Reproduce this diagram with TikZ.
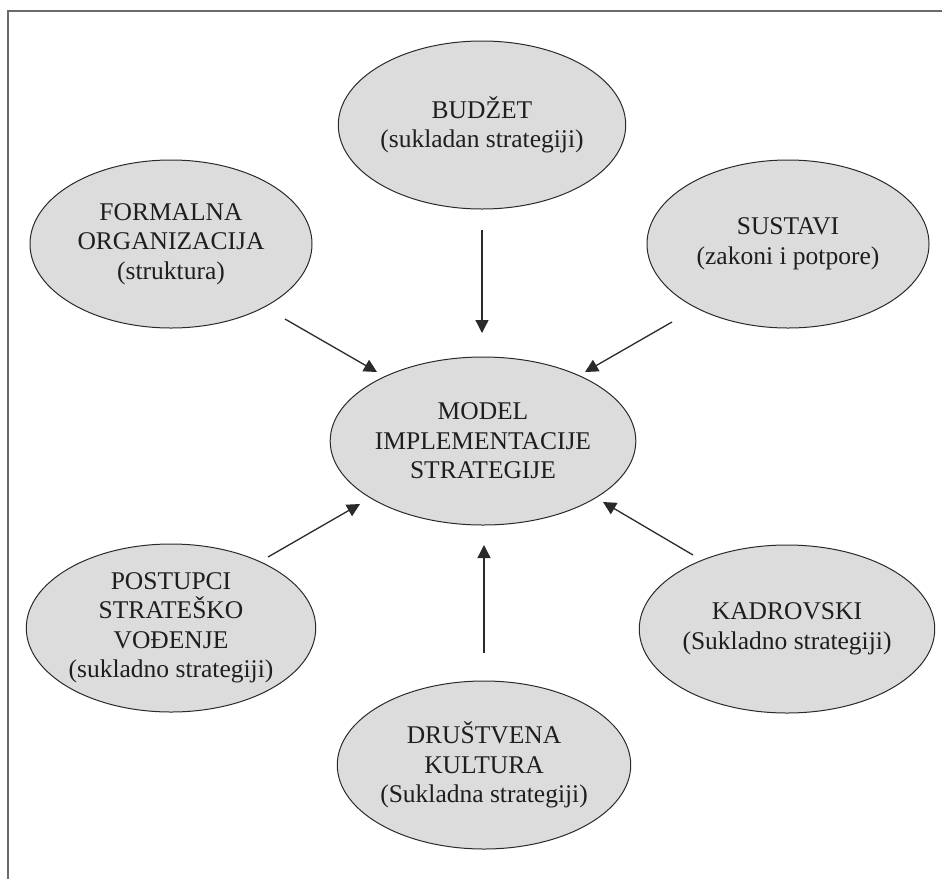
\documentclass[tikz,border=0pt]{standalone}
\usepackage{fontspec}
\setmainfont{Liberation Serif}
\usetikzlibrary{shapes.geometric,arrows.meta}
\definecolor{fillgray}{HTML}{DCDCDC}
\definecolor{edgecol}{HTML}{2A2A2A}
\definecolor{framecol}{HTML}{6A6A6A}
\definecolor{txtcol}{HTML}{1E1E1E}
\tikzset{
  blob/.style={ellipse, draw=edgecol, line width=1pt, fill=fillgray,
    minimum width=282pt, minimum height=168pt, inner sep=0pt,
    align=center, text=txtcol, font=\fontsize{25.5}{29.5}\selectfont},
  arr/.style={draw=edgecol, line width=1.3pt, -{Triangle[length=13pt,width=13pt]}},
  framestyle/.style={draw=framecol, line width=2pt}
}
\begin{document}
\begin{tikzpicture}[x=1pt,y=-1pt]
\useasboundingbox (0,0) rectangle (942,879);
\draw[framestyle] (8,879) -- (8,11) -- (942,11);

\node[blob] (bud) at (482,125) {BUDŽET\\(sukladan strategiji)};
\node[blob] (for) at (171,244) {FORMALNA\\ORGANIZACIJA\\(struktura)};
\node[blob] (sus) at (788,244) {SUSTAVI\\(zakoni i potpore)};
\node[blob] (mod) at (483,441) {MODEL\\IMPLEMENTACIJE\\STRATEGIJE};
\node[blob] (pos) at (171,628) {POSTUPCI\\STRATEŠKO\\VOĐENJE\\(sukladno strategiji)};
\node[blob] (kad) at (787,629) {KADROVSKI\\(Sukladno strategiji)};
\node[blob] (dru) at (484,765) {DRUŠTVENA\\KULTURA\\(Sukladna strategiji)};

\draw[arr] ([shift={(0,105)}]bud.center) -- ([shift={(-1,-108)}]mod.center);
\draw[arr] ([shift={(114,75)}]for.center) -- ([shift={(-106,-69)}]mod.center);
\draw[arr] ([shift={(-116,78)}]sus.center) -- ([shift={(102,-69)}]mod.center);
\draw[arr] ([shift={(97,-71)}]pos.center) -- ([shift={(-123,63)}]mod.center);
\draw[arr] ([shift={(-94,-74)}]kad.center) -- ([shift={(120,61)}]mod.center);
\draw[arr] ([shift={(0,-112)}]dru.center) -- ([shift={(1,104)}]mod.center);
\end{tikzpicture}
\end{document}
